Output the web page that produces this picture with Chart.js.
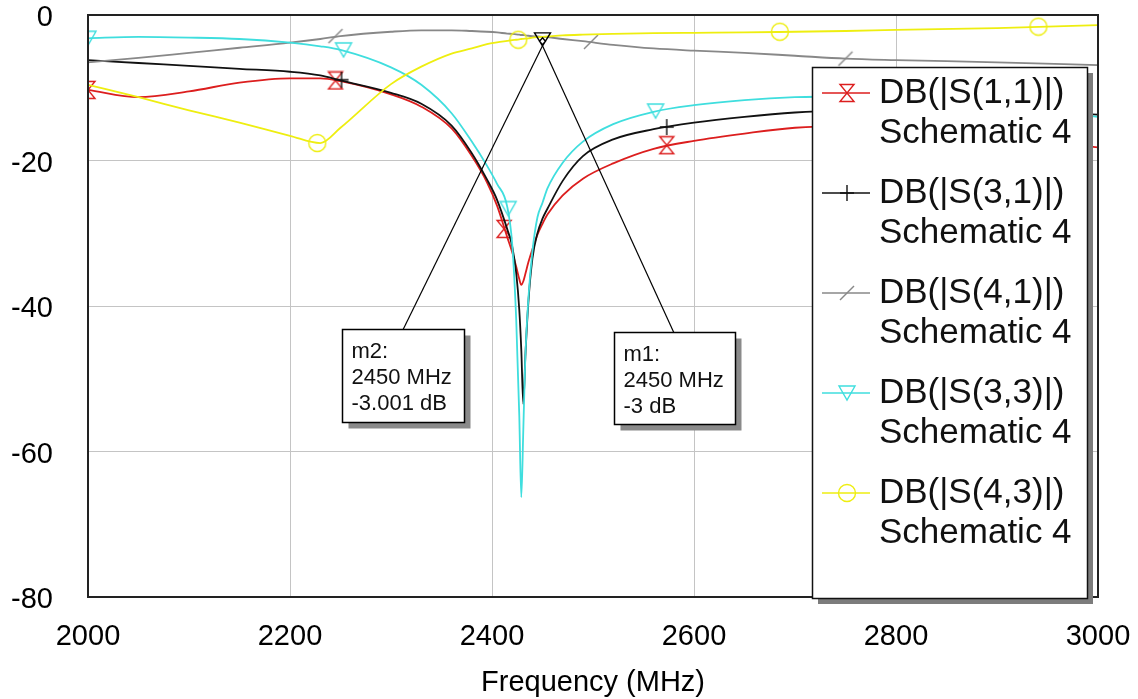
<!DOCTYPE html>
<html>
<head>
<meta charset="utf-8">
<script src="https://cdn.jsdelivr.net/npm/chart.js@4.4.1/dist/chart.umd.min.js"></script>
<style>
body { margin: 0; background: #fff; }
#wrap { width: 1138px; height: 699px; }
</style>
</head>
<body>
<div id="wrap"><canvas id="sparams" width="1138" height="699"></canvas></div>
<script>
// frequency points (MHz), denser around the notch
const freq = [2000, 2050, 2100, 2150, 2200, 2230, 2250, 2300, 2330, 2360, 2380, 2395, 2405, 2415, 2420, 2424,
  2427, 2429, 2431, 2433, 2436, 2440, 2445, 2450, 2455, 2470, 2490, 2520, 2560, 2600, 2650, 2700, 2750, 2800, 2900, 3000];

// dB values
const s11 = [-10.3, -11.3, -10.5, -9.3, -8.7, -8.7, -9.1, -10.9, -12.6, -15.6, -19.4, -23.0, -26.2, -30.5, -32.6, -34.6,
  -36.3, -37.1, -36.6, -35.6, -34.0, -32.2, -30.2, -28.7, -27.4, -24.8, -22.5, -20.4, -18.4, -17.3, -16.3, -15.5, -15.3, -15.6, -16.8, -18.2];
const s31 = [-6.2, -6.6, -7.0, -7.4, -7.8, -8.3, -9.0, -10.7, -12.2, -15.2, -19.0, -22.6, -25.4, -29.4, -31.8, -35.5,
  -40.5, -46.0, -53.5, -47.0, -39.5, -33.5, -30.0, -28.0, -26.6, -22.8, -19.4, -17.1, -15.7, -14.8, -14.0, -13.4, -13.1, -13.0, -13.2, -13.7];
const s41 = [-6.5, -5.9, -5.2, -4.5, -3.8, -3.3, -2.9, -2.3, -2.1, -2.1, -2.2, -2.3, -2.4, -2.55, -2.6, -2.65,
  -2.7, -2.75, -2.75, -2.8, -2.85, -2.9, -2.95, -3.0, -3.05, -3.3, -3.6, -4.1, -4.6, -4.9, -5.2, -5.6, -6.0, -6.2, -6.5, -6.9];
const s33 = [-3.2, -3.0, -3.1, -3.3, -3.8, -4.3, -4.8, -7.2, -9.6, -13.5, -17.4, -20.7, -23.2, -26.3, -31.5, -42.0,
  -55.0, -66.3, -57.0, -47.0, -39.0, -32.5, -27.8, -25.8, -23.8, -20.3, -17.4, -15.0, -13.3, -12.4, -11.7, -11.3, -11.2, -11.4, -12.5, -14.0];
const s43 = [-9.6, -11.3, -13.1, -14.8, -16.6, -17.6, -15.5, -9.5, -7.1, -5.3, -4.6, -4.0, -3.75, -3.55, -3.45, -3.4,
  -3.35, -3.3, -3.28, -3.25, -3.2, -3.12, -3.05, -3.0, -2.95, -2.8, -2.7, -2.6, -2.5, -2.45, -2.4, -2.3, -2.2, -2.05, -1.8, -1.4];

// trace symbols (where the simulator put them)
const s11MarkF = [2000, 2245, 2412, 2573];
const s11MarkDb = [-10.3, -9.0, -29.4, -17.9];
const s31MarkF = [2251, 2573];
const s31MarkDb = [-8.9, -15.4];
const s41MarkF = [2245, 2498, 2750];
const s41MarkDb = [-2.9, -3.7, -6.0];
const s33MarkF = [2000, 2253, 2416, 2562];
const s33MarkDb = [-3.2, -4.8, -26.6, -13.2];
const s43MarkF = [2227, 2426, 2685, 2941];
const s43MarkDb = [-17.6, -3.4, -2.3, -1.6];

// m1 / m2 markers
const markerFreq = 2450;
const m1Db = -3;
const m2Db = -3.001;

const xTicks = [2000, 2200, 2400, 2600, 2800, 3000];
const yTicks = [-80, -60, -40, -20, 0];

const names = ['DB(|S(1,1)|)', 'DB(|S(3,1)|)', 'DB(|S(4,1)|)', 'DB(|S(3,3)|)', 'DB(|S(4,3)|)'];
const colors = ['#dc1e1e', '#111111', '#888888', '#3fdede', '#eeee10'];
const symbols = ['hourglass', 'plus', 'slash', 'tri', 'circle'];

const FONT = '"Liberation Sans", Arial, sans-serif';
Chart.defaults.font.family = FONT;

function makeSym(kind, color) {
  const c = document.createElement('canvas');
  c.width = 20; c.height = 20;
  const g = c.getContext('2d');
  g.strokeStyle = color;
  g.lineWidth = 1.4;
  g.beginPath();
  if (kind === 'hourglass') {
    g.moveTo(3, 1.5); g.lineTo(17, 1.5); g.lineTo(3, 18.5); g.lineTo(17, 18.5); g.closePath();
  } else if (kind === 'plus') {
    g.moveTo(10, 2); g.lineTo(10, 18); g.moveTo(3, 10); g.lineTo(17, 10);
  } else if (kind === 'slash') {
    g.moveTo(3, 17); g.lineTo(17, 3);
  } else if (kind === 'tri') {
    g.moveTo(2, 3); g.lineTo(18, 3); g.lineTo(10, 17); g.closePath();
  } else {
    g.arc(10, 10, 8.5, 0, Math.PI * 2);
  }
  g.stroke();
  return c;
}
const symCanvas = symbols.map((s, i) => makeSym(s, colors[i]));

function pts(xs, ys) { return xs.map((x, i) => ({x: x, y: ys[i]})); }

const series = [s11, s31, s41, s33, s43];
const markF = [s11MarkF, s31MarkF, s41MarkF, s33MarkF, s43MarkF];
const markDb = [s11MarkDb, s31MarkDb, s41MarkDb, s33MarkDb, s43MarkDb];

const datasets = [];
series.forEach((vals, i) => {
  datasets.push({
    label: names[i],
    data: pts(freq, vals),
    borderColor: colors[i],
    borderWidth: 1.8,
    pointRadius: 0,
    cubicInterpolationMode: 'monotone',
    order: 10 - i
  });
  datasets.push({
    label: names[i] + ' sym',
    data: pts(markF[i], markDb[i]),
    showLine: false,
    pointStyle: symCanvas[i],
    pointRadius: 9,
    order: 10 - i
  });
});

// boxes for the m1/m2 readouts, anchored in data coordinates
const notes = [
  {lines: ['m2:', '2450 MHz', '-3.001 dB'], db: m2Db, boxF: 2251, boxDb: -43.2, w: 122, h: 93, attachF: 2312},
  {lines: ['m1:', '2450 MHz', '-3 dB'], db: m1Db, boxF: 2521, boxDb: -43.6, w: 121, h: 92, attachF: 2580}
];

// keep tick padding from inflating the layout
function noPad(s) { s.paddingTop = 0; s.paddingBottom = 0; s.paddingLeft = 0; s.paddingRight = 0; }

const overlay = {
  id: 'overlay',
  afterDatasetsDraw(chart) {
    const ctx = chart.ctx;
    const a = chart.chartArea;
    const xs = chart.scales.x, ys = chart.scales.y;
    ctx.save();
    // plot frame
    ctx.strokeStyle = '#222';
    ctx.lineWidth = 2;
    ctx.strokeRect(a.left, a.top, a.right - a.left, a.bottom - a.top);

    // marker readouts
    notes.forEach(n => {
      const mx = xs.getPixelForValue(markerFreq);
      const my = ys.getPixelForValue(n.db);
      const bx = Math.round(xs.getPixelForValue(n.boxF)) + 0.5;
      const by = Math.round(ys.getPixelForValue(n.boxDb)) + 0.5;
      ctx.strokeStyle = '#000';
      ctx.lineWidth = 1.2;
      ctx.beginPath();
      ctx.moveTo(mx, my + 9);
      ctx.lineTo(xs.getPixelForValue(n.attachF), by);
      ctx.stroke();
      ctx.fillStyle = '#8a8a8a';
      ctx.fillRect(bx + 6, by + 6, n.w, n.h);
      ctx.fillStyle = '#fff';
      ctx.fillRect(bx, by, n.w, n.h);
      ctx.lineWidth = 1.5;
      ctx.strokeRect(bx, by, n.w, n.h);
      ctx.fillStyle = '#111';
      ctx.font = '22px ' + FONT;
      ctx.textBaseline = 'middle';
      n.lines.forEach((t, k) => ctx.fillText(t, bx + 9, by + 22 + k * 26));
    });
    // marker symbol
    const mx = xs.getPixelForValue(markerFreq);
    const my = ys.getPixelForValue(m1Db);
    ctx.strokeStyle = '#000';
    ctx.lineWidth = 1.4;
    ctx.beginPath();
    ctx.moveTo(mx - 8, my - 4); ctx.lineTo(mx + 8, my - 4); ctx.lineTo(mx, my + 9); ctx.closePath();
    ctx.moveTo(mx, my + 1); ctx.lineTo(mx + 3, my + 4.5); ctx.lineTo(mx, my + 8); ctx.lineTo(mx - 3, my + 4.5); ctx.closePath();
    ctx.stroke();

    // legend box
    const lx = 812, ly = 67, lw = 275, lh = 531;
    ctx.fillStyle = '#7c7c7c';
    ctx.fillRect(lx + 6, ly + 6, lw, lh);
    ctx.fillStyle = '#fff';
    ctx.fillRect(lx, ly, lw, lh);
    ctx.strokeStyle = '#111';
    ctx.lineWidth = 1.5;
    ctx.strokeRect(lx + 0.5, ly + 0.5, lw, lh);
    ctx.font = '35px ' + FONT;
    ctx.textBaseline = 'middle';
    names.forEach((nm, i) => {
      const rowY = 93 + i * 100;
      ctx.strokeStyle = colors[i];
      ctx.lineWidth = 1.4;
      ctx.beginPath();
      ctx.moveTo(822, rowY); ctx.lineTo(870, rowY);
      ctx.stroke();
      ctx.drawImage(symCanvas[i], 847 - 10, rowY - 10);
      ctx.fillStyle = '#111';
      ctx.fillText(nm, 879, rowY);
      ctx.fillText('Schematic 4', 879, rowY + 40);
    });
    ctx.restore();
  }
};

new Chart(document.getElementById('sparams'), {
  type: 'line',
  data: { datasets: datasets },
  options: {
    responsive: false,
    animation: false,
    devicePixelRatio: 1,
    layout: { autoPadding: false, padding: { top: 15, right: 40, left: 0, bottom: 0 } },
    plugins: { legend: { display: false }, tooltip: { enabled: false } },
    scales: {
      x: {
        type: 'linear',
        min: 2000,
        max: 3000,
        afterBuildTicks: s => { s.ticks = xTicks.map(v => ({value: v})); },
        afterFit: s => { s.height = 102; noPad(s); },
        border: { display: false },
        grid: { color: '#c4c4c4', lineWidth: 1, drawTicks: false },
        ticks: { color: '#000', padding: 25, font: { size: 29, lineHeight: 1 }, maxRotation: 0, callback: v => String(v) },
        title: { display: true, text: 'Frequency (MHz)', color: '#000', font: { size: 29, lineHeight: 1 }, padding: { top: 0, bottom: 2 } }
      },
      y: {
        min: -80,
        max: 0,
        afterBuildTicks: s => { s.ticks = yTicks.map(v => ({value: v})); },
        afterFit: s => { s.width = 88; noPad(s); },
        border: { display: false },
        grid: { color: '#c4c4c4', lineWidth: 1, drawTicks: false },
        ticks: { color: '#000', padding: 35, labelOffset: 3, font: { size: 29, lineHeight: 1 }, callback: v => String(v) }
      }
    }
  },
  plugins: [overlay]
});
</script>
</body>
</html>
